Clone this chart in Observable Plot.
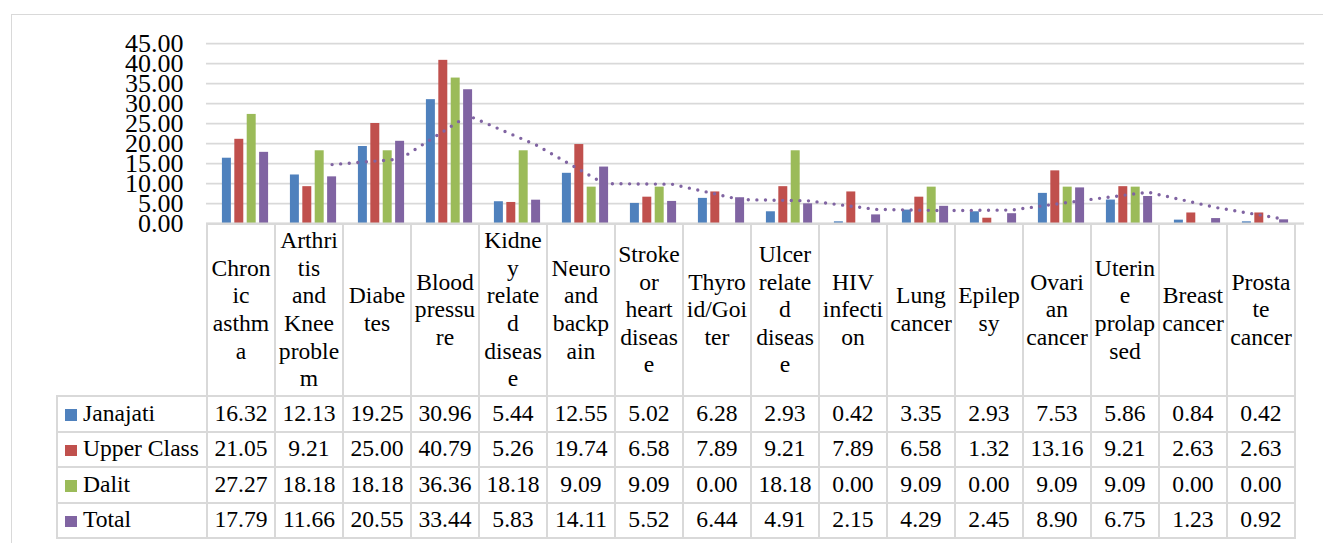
<!DOCTYPE html>
<html>
<head>
<meta charset="utf-8">
<script src="https://cdn.jsdelivr.net/npm/d3@7"></script>
<script src="https://cdn.jsdelivr.net/npm/@observablehq/plot@0.6"></script>
<style>
  html, body { margin: 0; padding: 0; background: #fff; }
  body {
    position: relative; width: 1323px; height: 543px; overflow: hidden;
    font-family: 'Liberation Serif', serif; color: #000;
  }
  #frame {
    position: absolute; left: 10.5px; top: 13.5px; width: 1400px; height: 700px;
    border: 1.5px solid #d9d9d9; box-sizing: border-box;
  }
  #chart { position: absolute; left: 0; top: 0; }
  #chart svg text { font-family: 'Liberation Serif', serif; }
  #datatable {
    position: absolute; border-collapse: collapse; table-layout: fixed;
    font-family: 'Liberation Serif', serif; font-size: 23.6px; line-height: 1;
  }
  #datatable td {
    font-family: 'Liberation Serif', serif;
    border: 2px solid #d9d9d9; padding: 0; text-align: center; vertical-align: middle; white-space: nowrap;
  }
  #datatable td.blank { border-top: none; border-left: none; }
  #datatable tr.head td { height: 170px; line-height: 27.6px; }
  #datatable tr.row td { height: 33.5px; }
  #datatable td.legend { text-align: left; padding-left: 7px; }
  #datatable .swatch { display: inline-block; width: 11.5px; height: 11.5px; margin-right: 6.5px; vertical-align: 0; }
</style>
</head>
<body>
<div id="frame"></div>
<div id="chart"></div>
<script>
// Disease categories and the share (%) reported by each group
const categories = [
  "Chronic asthma", "Arthritis and Knee problem", "Diabetes", "Blood pressure",
  "Kidney related disease", "Neuro and backpain", "Stroke or heart disease",
  "Thyroid/Goiter", "Ulcer related disease", "HIV infection", "Lung cancer",
  "Epilepsy", "Ovarian cancer", "Uterine prolapsed", "Breast cancer", "Prostate cancer"
];
const seriesNames = ["Janajati", "Upper Class", "Dalit", "Total"];
const janajati   = [16.32, 12.13, 19.25, 30.96, 5.44, 12.55, 5.02, 6.28, 2.93, 0.42, 3.35, 2.93, 7.53, 5.86, 0.84, 0.42];
const upperClass = [21.05, 9.21, 25.00, 40.79, 5.26, 19.74, 6.58, 7.89, 9.21, 7.89, 6.58, 1.32, 13.16, 9.21, 2.63, 2.63];
const dalit      = [27.27, 18.18, 18.18, 36.36, 18.18, 9.09, 9.09, 0.00, 18.18, 0.00, 9.09, 0.00, 9.09, 9.09, 0.00, 0.00];
const total      = [17.79, 11.66, 20.55, 33.44, 5.83, 14.11, 5.52, 6.44, 4.91, 2.15, 4.29, 2.45, 8.90, 6.75, 1.23, 0.92];
const yTicks = [0, 5, 10, 15, 20, 25, 30, 35, 40, 45];

const seriesValues = [janajati, upperClass, dalit, total];
const rows = categories.flatMap((category, i) =>
  seriesNames.map((series, j) => ({category, series, value: seriesValues[j][i]}))
);

const palette = ["#4F81BD", "#C0504D", "#9BBB59", "#8064A2"];
const serif = "Liberation Serif";
const slot = 12.4;      // horizontal spacing of the four bars inside a category
const barWidth = 9.6;

const plotWidth = 1323, left = 206, right = 19;
const bandStep = (plotWidth - left - right) / categories.length;
const inset = (bandStep - barWidth) / 2;

const chart = Plot.plot({
  width: plotWidth,
  height: 225,
  marginLeft: left,
  marginRight: right,
  marginTop: 43,
  marginBottom: 2,
  style: {fontFamily: serif, color: "#000", background: "transparent", overflow: "visible"},
  x: {domain: categories, padding: 0, axis: null},
  y: {domain: [0, 45]},
  color: {domain: seriesNames, range: palette},
  marks: [
    Plot.gridY(yTicks, {stroke: "#d9d9d9", strokeOpacity: 1, strokeWidth: 1.75}),
    Plot.axisY({
      ticks: yTicks, tickFormat: d3.format(".2f"), tickSize: 0, tickPadding: 23,
      fontSize: 26, fontFamily: serif, label: null
    }),
    ...seriesNames.map((s, j) =>
      Plot.barY(rows.filter(d => d.series === s), {
        x: "category", y: "value", fill: "series",
        insetLeft: inset, insetRight: inset, dx: (j - 1.5) * slot
      })
    ),
    Plot.ruleY([0], {stroke: "#d9d9d9", strokeWidth: 2}),
    // two-period moving average of the Total series, anchored on the Total bars
    Plot.lineY(rows.filter(d => d.series === "Total"), Plot.windowY(
      {k: 2, anchor: "end", strict: true},
      {
        x: "category", y: "value", dx: 1.5 * slot,
        stroke: palette[3], strokeWidth: 3.4, strokeDasharray: "0 8.6", strokeLinecap: "round"
      }
    ))
  ]
});
document.getElementById("chart").append(chart);

// Data table under the chart, its columns sized from the chart's x scale
const xScale = chart.scale("x");
const step = xScale.step;
const tableLeft = 56;
const legendWidth = xScale.range[0] - tableLeft;
const fontSize = 23.6;
const wrapWidth = 62;

// Wrap a label into lines, splitting a word only when it cannot fit on a line alone
const ctx = document.createElement("canvas").getContext("2d");
ctx.font = `${fontSize}px "Liberation Serif"`;
const fits = s => ctx.measureText(s).width <= wrapWidth;
function wrapLabel(text) {
  const lines = [];
  let current = "";
  for (let word of text.split(" ")) {
    const candidate = current ? current + " " + word : word;
    if (fits(candidate)) { current = candidate; continue; }
    if (current) lines.push(current);
    current = "";
    while (!fits(word)) {
      let n = word.length - 1;
      while (n > 1 && !fits(word.slice(0, n))) n--;
      lines.push(word.slice(0, n));
      word = word.slice(n);
    }
    current = word;
  }
  if (current) lines.push(current);
  return lines;
}

const table = d3.select("body").append("table")
  .attr("id", "datatable")
  .style("left", tableLeft + "px")
  .style("top", chart.scale("y").apply(0) + "px")
  .style("width", (legendWidth + step * categories.length) + "px");

const colgroup = table.append("colgroup");
colgroup.append("col").style("width", legendWidth + "px");
categories.forEach(() => colgroup.append("col").style("width", step + "px"));

const head = table.append("tr").attr("class", "head");
head.append("td").attr("class", "blank");
head.selectAll("td.cat").data(categories).join("td").attr("class", "cat")
  .html(c => wrapLabel(c).join("<br>"));

seriesNames.forEach((s, j) => {
  const tr = table.append("tr").attr("class", "row");
  const lg = tr.append("td").attr("class", "legend");
  lg.append("span").attr("class", "swatch").style("background", chart.scale("color").apply(s));
  lg.append("span").text(s);
  tr.selectAll("td.val").data(seriesValues[j]).join("td").attr("class", "val")
    .text(d3.format(".2f"));
});
</script>
</body>
</html>
